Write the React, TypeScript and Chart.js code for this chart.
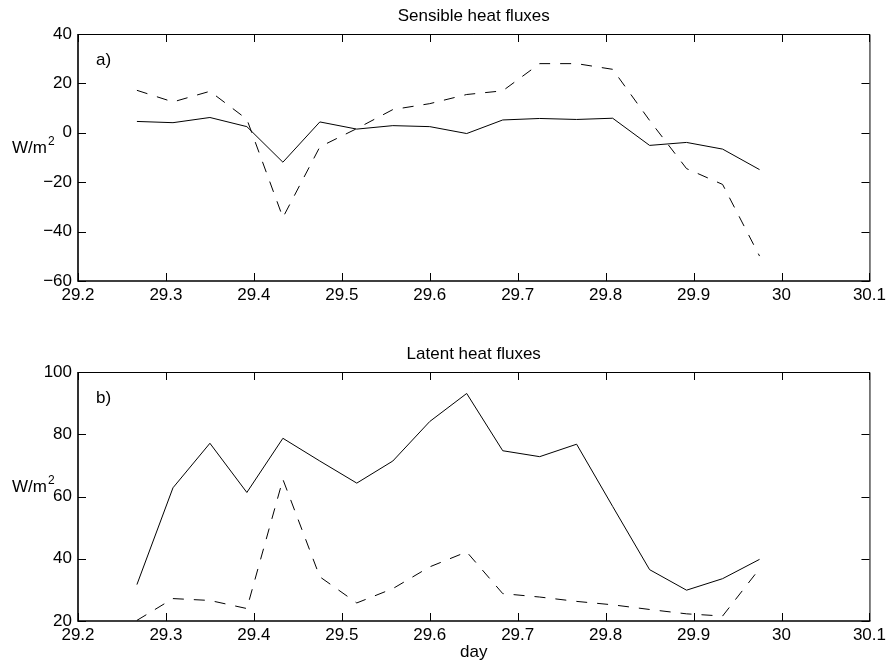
import React, { useEffect, useRef } from "react";
import { Chart, registerables } from "chart.js";

Chart.register(...registerables);

const FONT = "'Liberation Sans', Arial, Helvetica, sans-serif";

// Time (day) of each sample
const days = [29.267, 29.308, 29.35, 29.392, 29.433, 29.475, 29.517, 29.558, 29.6, 29.642, 29.683, 29.725, 29.767, 29.808, 29.85, 29.892, 29.933, 29.975];

// a) Sensible heat fluxes (W/m2)
const sensibleSolid = [4.6, 4.1, 6.2, 2.5, -11.9, 4.4, 1.5, 2.9, 2.5, -0.3, 5.2, 5.8, 5.4, 5.9, -5.1, -3.9, -6.6, -14.9];
const sensibleDashed = [17.2, 12.5, 16.8, 5.5, -34.3, -5.7, 1.7, 9.4, 11.8, 15.5, 17.0, 28.0, 28.0, 25.7, 5.0, -14.5, -20.9, -49.9];

// b) Latent heat fluxes (W/m2)
const latentSolid = [31.7, 62.8, 77.1, 61.3, 78.7, 71.4, 64.3, 71.4, 84.1, 93.1, 74.7, 72.8, 76.8, 56.8, 36.5, 29.9, 33.6, 39.8];
const latentDashed = [20.2, 27.2, 26.6, 24.0, 65.5, 34.2, 25.8, 30.4, 37.4, 42.2, 28.8, 27.7, 26.3, 25.2, 23.7, 22.3, 21.6, 36.8];

// Tick labels
const xTicks = [29.2, 29.3, 29.4, 29.5, 29.6, 29.7, 29.8, 29.9, 30.0, 30.1];
const sensibleTicks = [-60, -40, -20, 0, 20, 40];
const latentTicks = [20, 40, 60, 80, 100];

const fmt = (v: number) => {
  const r = Math.round(v * 10) / 10;
  const s = String(r);
  return s.replace("-", "\u2212");
};

const framePlugin = {
  id: "frame",
  afterDraw(chart: any, _args: any, opts: any) {
    const { ctx, chartArea: a, scales } = chart;
    ctx.save();
    ctx.strokeStyle = "#000";
    ctx.lineWidth = 1;
    const L = 8;
    ctx.beginPath();
    for (const t of scales.x.ticks) {
      const px = Math.round(scales.x.getPixelForValue(t.value)) + 0.5;
      ctx.moveTo(px, a.bottom);
      ctx.lineTo(px, a.bottom - L);
      ctx.moveTo(px, a.top);
      ctx.lineTo(px, a.top + L);
    }
    for (const t of scales.y.ticks) {
      const py = Math.round(scales.y.getPixelForValue(t.value)) + 0.5;
      ctx.moveTo(a.left, py);
      ctx.lineTo(a.left + L, py);
      ctx.moveTo(a.right, py);
      ctx.lineTo(a.right - L, py);
    }
    ctx.stroke();
    // box
    ctx.beginPath();
    ctx.moveTo(a.left, a.top + 0.5);
    ctx.lineTo(a.right + 0.5, a.top + 0.5);
    ctx.lineTo(a.right + 0.5, a.bottom);
    ctx.stroke();
    ctx.lineWidth = 1.6;
    ctx.beginPath();
    ctx.moveTo(a.left, a.top);
    ctx.lineTo(a.left, a.bottom);
    ctx.lineTo(a.right + 1, a.bottom);
    ctx.stroke();

    ctx.fillStyle = "#000";
    ctx.font = `17px ${FONT}`;
    ctx.textAlign = "center";
    ctx.textBaseline = "middle";
    ctx.fillText(opts.title, (a.left + a.right) / 2, a.top - 18);
    ctx.textAlign = "left";
    ctx.fillText(opts.tag, a.left + 18, a.top + 26);

    const cy = (a.top + a.bottom) / 2;
    ctx.textBaseline = "alphabetic";
    ctx.fillText("W/m", 12, cy - 4.5);
    const w = ctx.measureText("W/m").width;
    ctx.font = `12px ${FONT}`;
    ctx.fillText("2", 12 + w + 1, cy - 12.5);
    ctx.restore();
  },
};

type PanelProps = {
  top: number;
  height: number;
  areaTop: number;
  areaBottom: number;
  title: string;
  tag: string;
  solid: number[];
  dashed: number[];
  yTicks: number[];
  xTitle?: string;
};

function Panel(p: PanelProps) {
  const ref = useRef<HTMLCanvasElement | null>(null);
  useEffect(() => {
    if (!ref.current) return;
    const yMin = p.yTicks[0];
    const yMax = p.yTicks[p.yTicks.length - 1];
    const chart = new Chart(ref.current, {
      type: "line",
      data: {
        datasets: [
          {
            data: days.map((d, i) => ({ x: d, y: p.solid[i] })),
            borderColor: "#000",
            borderWidth: 1,
            pointRadius: 0,
            tension: 0,
            fill: false,
          },
          {
            data: days.map((d, i) => ({ x: d, y: p.dashed[i] })),
            borderColor: "#000",
            borderWidth: 1,
            borderDash: [11, 10],
            pointRadius: 0,
            tension: 0,
            fill: false,
          },
        ],
      },
      options: {
        animation: false,
        responsive: false,
        events: [],
        layout: { padding: { top: p.areaTop, right: 18, left: 0, bottom: 0 } },
        plugins: {
          legend: { display: false },
          tooltip: { enabled: false },
          frame: { title: p.title, tag: p.tag },
        } as any,
        scales: {
          x: {
            type: "linear",
            min: 29.2,
            max: 30.1,
            grid: { display: false, drawTicks: false },
            border: { display: false },
            afterBuildTicks: (s: any) => {
              s.ticks = xTicks.map((v) => ({ value: v }));
            },
            afterFit: (s: any) => {
              s.height = p.height - p.areaBottom;
            },
            ticks: {
              autoSkip: false,
              maxRotation: 0,
              padding: 4,
              color: "#000",
              font: { family: FONT, size: 17 },
              callback: (v: any) => fmt(Number(v)),
            },
            title: {
              display: !!p.xTitle,
              text: p.xTitle || "",
              color: "#000",
              font: { family: FONT, size: 17 },
              padding: { top: 0, bottom: 1 },
            },
          },
          y: {
            type: "linear",
            min: yMin,
            max: yMax,
            grid: { display: false, drawTicks: false },
            border: { display: false },
            afterBuildTicks: (s: any) => {
              s.ticks = p.yTicks.map((v) => ({ value: v }));
            },
            afterFit: (s: any) => {
              s.width = 78;
            },
            ticks: {
              padding: 6,
              color: "#000",
              font: { family: FONT, size: 17 },
              callback: (v: any) => fmt(Number(v)),
            },
          },
        },
      },
      plugins: [framePlugin],
    } as any);
    return () => chart.destroy();
  }, []);
  return (
    <div style={{ position: "absolute", left: 0, top: p.top, width: 890, height: p.height }}>
      <canvas ref={ref} width={890} height={p.height} style={{ display: "block" }} />
    </div>
  );
}

export default function App() {
  return (
    <div style={{ position: "absolute", left: 0, top: 0, width: 890, height: 664, background: "#fff" }}>
      <Panel
        top={0}
        height={310}
        areaTop={34}
        areaBottom={281}
        title="Sensible heat fluxes"
        tag="a)"
        solid={sensibleSolid}
        dashed={sensibleDashed}
        yTicks={sensibleTicks}
      />
      <Panel
        top={310}
        height={354}
        areaTop={62}
        areaBottom={311}
        title="Latent heat fluxes"
        tag="b)"
        solid={latentSolid}
        dashed={latentDashed}
        yTicks={latentTicks}
        xTitle="day"
      />
    </div>
  );
}
